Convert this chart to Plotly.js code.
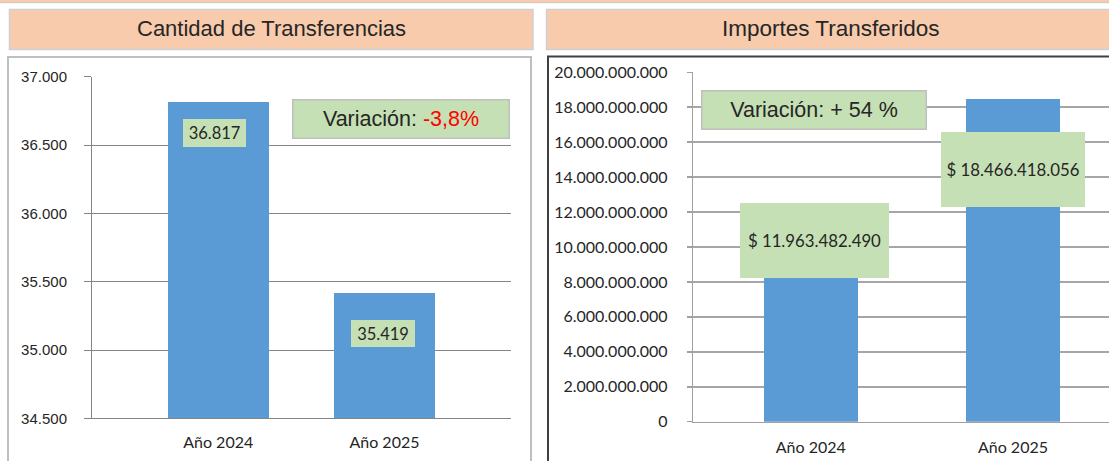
<!DOCTYPE html>
<html>
<head>
<meta charset="utf-8">
<script src="https://cdn.plot.ly/plotly-3.0.1.min.js"></script>
<style>
  html, body { margin: 0; padding: 0; background: #ffffff; }
  #chart { width: 1109px; height: 461px; }
</style>
</head>
<body>
<div id="chart"></div>
<script>
// ---- data ----
const categories = ['Año 2024', 'Año 2025'];
const cantidad = [36817, 35419];
const importes = [11963482490, 18466418056];
const titles = ['Cantidad de Transferencias', 'Importes Transferidos'];
const cantidadTicks = [34500, 35000, 35500, 36000, 36500, 37000];
const importesTicks = [0, 2e9, 4e9, 6e9, 8e9, 10e9, 12e9, 14e9, 16e9, 18e9, 20e9];

// ---- helpers ----
const W = 1109, H = 461;
const px = x => x / W;
const py = y => 1 - y / H;
function fmt(n) {
  return Math.round(n).toString().replace(/\B(?=(\d{3})+(?!\d))/g, '.');
}
const varCant = (cantidad[1] / cantidad[0] - 1) * 100;
const varImp = (importes[1] / importes[0] - 1) * 100;
const varCantTxt = (varCant < 0 ? '-' : '+') + Math.abs(varCant).toFixed(1).replace('.', ',') + '%';
const varImpTxt = (varImp < 0 ? '- ' : '+ ') + Math.round(Math.abs(varImp)) + ' %';

const BAR = '#5B9BD5';
const GREEN = '#C5E0B4';
const PEACH = '#F8CBAD';
const TXT = '#262626';

const traces = [
  {
    type: 'bar', x: categories, y: cantidad, xaxis: 'x', yaxis: 'y',
    marker: { color: BAR }, width: 0.607, hoverinfo: 'skip', showlegend: false
  },
  {
    type: 'bar', x: categories, y: importes, xaxis: 'x2', yaxis: 'y2',
    marker: { color: BAR }, width: 0.465, hoverinfo: 'skip', showlegend: false
  }
];

// label offsets (style only)
const cantLabelStyle = [
  { xs: -4, ys: -31, w: 63, h: 28 },
  { xs: -1, ys: -41, w: 64, h: 27 }
];
const impLabelStyle = [
  { xs: 4, ys: -28, w: 149, h: 75 },
  { xs: 0, ys: -70, w: 144, h: 75 }
];

const annotations = [];
// headers
annotations.push({
  xref: 'paper', yref: 'paper', x: px(271), y: py(29), xanchor: 'center', yanchor: 'middle',
  text: titles[0], showarrow: false, font: { family: 'Liberation Sans, Arial', size: 22, color: TXT }
});
annotations.push({
  xref: 'paper', yref: 'paper', x: px(831), y: py(29), xanchor: 'center', yanchor: 'middle',
  text: titles[1], showarrow: false, font: { family: 'Liberation Sans, Arial', size: 22.5, color: TXT }
});
// variation boxes
annotations.push({
  xref: 'paper', yref: 'paper', x: px(401), y: py(118.7), xanchor: 'center', yanchor: 'middle',
  text: 'Variación: <span style="color:#FF0000">' + varCantTxt + '</span>',
  showarrow: false, bgcolor: GREEN, bordercolor: '#BFBFBF', borderwidth: 1.5, borderpad: 0,
  width: 215, height: 37, font: { family: 'Liberation Sans, Arial', size: 21.5, color: TXT }
});
annotations.push({
  xref: 'paper', yref: 'paper', x: px(813.5), y: py(110.5), xanchor: 'center', yanchor: 'middle',
  text: 'Variación: ' + varImpTxt,
  showarrow: false, bgcolor: GREEN, bordercolor: '#BFBFBF', borderwidth: 1.5, borderpad: 0,
  width: 223, height: 37, font: { family: 'Liberation Sans, Arial', size: 21.5, color: TXT }
});
// value labels
cantidad.forEach((v, i) => {
  const s = cantLabelStyle[i];
  annotations.push({
    xref: 'x', yref: 'y', x: categories[i], y: v, xanchor: 'center', yanchor: 'middle',
    xshift: s.xs, yshift: s.ys, text: fmt(v), showarrow: false,
    bgcolor: GREEN, borderwidth: 0, borderpad: 0, width: s.w, height: s.h,
    font: { family: 'Lato', size: 16.5, color: TXT }
  });
});
importes.forEach((v, i) => {
  const s = impLabelStyle[i];
  annotations.push({
    xref: 'x2', yref: 'y2', x: categories[i], y: v, xanchor: 'center', yanchor: 'middle',
    xshift: s.xs, yshift: s.ys, text: '$ ' + fmt(v), showarrow: false,
    bgcolor: GREEN, borderwidth: 0, borderpad: 0, width: s.w, height: s.h,
    font: { family: 'Lato', size: 16.8, color: TXT }
  });
});

const shapes = [
  // top strip
  { type: 'rect', xref: 'paper', yref: 'paper', x0: px(-2), x1: px(1112), y0: py(-2), y1: py(2.7),
    fillcolor: PEACH, line: { color: '#C8C8C8', width: 1 }, layer: 'below' },
  // headers
  { type: 'rect', xref: 'paper', yref: 'paper', x0: px(9.5), x1: px(533), y0: py(9.5), y1: py(49.5),
    fillcolor: PEACH, line: { color: '#D0D0D0', width: 1.5 }, layer: 'below' },
  { type: 'rect', xref: 'paper', yref: 'paper', x0: px(546.5), x1: px(1115), y0: py(9.5), y1: py(49.5),
    fillcolor: PEACH, line: { color: '#D0D0D0', width: 1.5 }, layer: 'below' },
  // frames
  { type: 'rect', xref: 'paper', yref: 'paper', x0: px(8), x1: px(531), y0: py(57), y1: py(475),
    fillcolor: 'rgba(0,0,0,0)', line: { color: '#BFBFBF', width: 2 }, layer: 'below' },
  { type: 'rect', xref: 'paper', yref: 'paper', x0: px(548), x1: px(1118), y0: py(56.5), y1: py(475),
    fillcolor: 'rgba(0,0,0,0)', line: { color: '#404040', width: 2 }, layer: 'below' }
];

const layout = {
  width: W, height: H,
  margin: { l: 0, r: 0, t: 0, b: 0, pad: 0 },
  paper_bgcolor: '#FFFFFF', plot_bgcolor: 'rgba(0,0,0,0)',
  separators: ',.',
  showlegend: false,
  bargap: 0,
  xaxis: {
    domain: [px(92), px(511)], type: 'category', range: [-0.759, 1.761],
    showgrid: false, zeroline: false, showline: true, linecolor: '#858585', linewidth: 1,
    ticks: '', ticklabelstandoff: 9,
    tickfont: { family: 'Lato', size: 16, color: TXT }, fixedrange: true
  },
  yaxis: {
    domain: [py(418.3), py(76.8)], range: [34500, 37000],
    tickvals: cantidadTicks, ticktext: cantidadTicks.map(fmt),
    showgrid: true, gridcolor: '#858585', gridwidth: 1, zeroline: false,
    showline: true, linecolor: '#858585', linewidth: 1,
    ticks: 'outside', ticklen: 7, tickcolor: '#858585', tickwidth: 1, ticklabelstandoff: 14,
    tickfont: { family: 'Liberation Sans, Arial', size: 15, color: TXT }, fixedrange: true
  },
  xaxis2: {
    domain: [px(693.3), 1], type: 'category', range: [-0.581, 1.475], anchor: 'y2',
    showgrid: false, zeroline: false, showline: true, linecolor: '#A0A0A0', linewidth: 1.5,
    ticks: '', ticklabelstandoff: 11,
    tickfont: { family: 'Lato', size: 16, color: TXT }, fixedrange: true
  },
  yaxis2: {
    domain: [py(421.7), py(72.3)], range: [0, 20e9], anchor: 'x2',
    tickvals: importesTicks, ticktext: importesTicks.map(fmt),
    showgrid: true, gridcolor: '#A6A6A6', gridwidth: 1.5, zeroline: false,
    showline: true, linecolor: '#A0A0A0', linewidth: 1.5,
    ticks: 'outside', ticklen: 5, tickcolor: '#A0A0A0', tickwidth: 1.5, ticklabelstandoff: 16,
    tickfont: { family: 'Lato', size: 16, color: TXT }, fixedrange: true
  },
  annotations: annotations,
  shapes: shapes
};

Plotly.newPlot('chart', traces, layout, { displayModeBar: false, staticPlot: true });
</script>
</body>
</html>
